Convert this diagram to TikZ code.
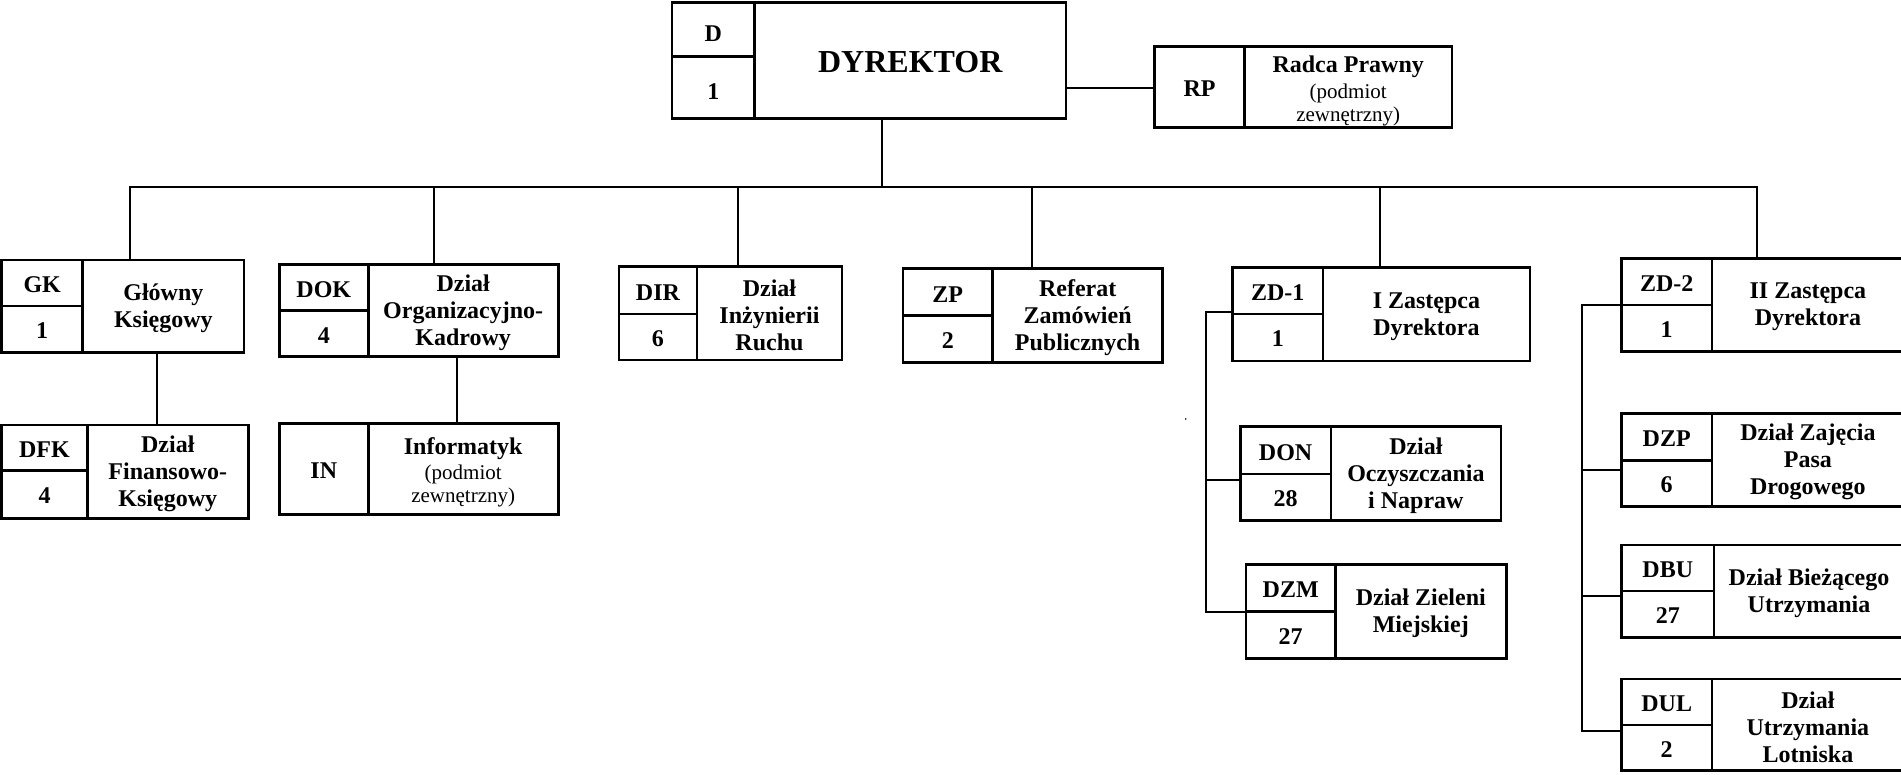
\documentclass[tikz,border=0pt]{standalone}
\usepackage{fontspec}
\setmainfont{Liberation Serif}
\usetikzlibrary{fit}
\newcommand\bfnt{\fontsize{24}{27}\selectfont\bfseries}
\newcommand\rfnt{\fontsize{21}{23}\selectfont\mdseries}
\newcommand\bigfnt{\fontsize{32}{36}\selectfont\bfseries}
% #1 name, #2 x1, #3 y1, #4 x2, #5 y2, #6 x of divider, #7 y of code/number divider (empty = none)
\newcommand\orgbox[7]{%
  \node[box, fit={(#2,#3) (#4,#5)}] (#1) {};
  \draw[divline] (#6,#3) -- (#6,#5);
  \ifx\relax#7\relax
    \coordinate (#1-c) at ({(#2+#6)/2},{(#3+#5)/2+1.5});
  \else
    \draw[divline] (#2,#7) -- (#6,#7);
    \coordinate (#1-c) at ({(#2+#6)/2},{(#3+#7)/2+2});
    \coordinate (#1-n) at ({(#2+#6)/2},{(#7+#5)/2+1.5});
  \fi
  \coordinate (#1-t) at ({(#6+#4)/2},{(#3+#5)/2+2});
}
\begin{document}
\begin{tikzpicture}[x=1pt,y=-1pt,
  box/.style={draw, rectangle, line width=2.6pt, inner sep=0pt, outer sep=0pt},
  divline/.style={line width=2.6pt},
  conn/.style={line width=2pt, line join=miter},
  codet/.style={font=\bfnt, inner sep=0pt},
  namet/.style={font=\bfnt, align=center, inner sep=0pt},
  mixt/.style={font=\bfnt, align=center, inner sep=0pt, anchor=north},
]
\useasboundingbox (0,0) rectangle (1901,775);

% boxes
\orgbox{D}{672}{2.7}{1066}{118.3}{754.6}{56.7}
\orgbox{RP}{1154.7}{46.7}{1451.8}{127.7}{1244.6}{}
\orgbox{GK}{1.7}{260}{244}{352.7}{82.7}{306}
\orgbox{DFK}{1.7}{425}{248.3}{518.3}{87.3}{470.7}
\orgbox{DOK}{279.4}{264.3}{558.2}{356.7}{368.2}{310.7}
\orgbox{IN}{279.4}{423.7}{558.2}{514.7}{368.2}{}
\orgbox{DIR}{619}{266.7}{842}{360}{696.9}{314}
\orgbox{ZP}{902.9}{268.7}{1162.7}{362.7}{992.6}{315.7}
\orgbox{ZD1}{1232.6}{267.7}{1529.9}{361}{1323}{314}
\orgbox{ZD2}{1621.6}{258.5}{1904}{351.7}{1711.8}{305}
\orgbox{DON}{1240.2}{426.7}{1500.8}{520.7}{1331}{474}
\orgbox{DZM}{1246}{564.3}{1506.2}{658.3}{1335.4}{611.7}
\orgbox{DZP}{1621.6}{413.5}{1904}{506.7}{1711.8}{460.3}
\orgbox{DBU}{1621.6}{545}{1904}{637.5}{1714}{590.8}
\orgbox{DUL}{1621.6}{679}{1904}{770.7}{1711.8}{725}

% texts
\node[codet] (tD) at ([yshift=-2pt]D-c) {D};
\node[codet] (nD) at ([yshift=-3pt]D-n) {1};
\node[font=\bigfnt, inner sep=0pt] (xD) at (D-t) {DYREKTOR};

\node[codet] (tRP) at (RP-c) {RP};
\node[mixt] (xRP) at (RP-t |- 0,55.3) {Radca Prawny\\[-1pt]{\rfnt (podmiot}\\[-4pt]{\rfnt zewnętrzny)}};

\node[codet] (tGK) at (GK-c) {GK};
\node[codet] (nGK) at (GK-n) {1};
\node[namet] (xGK) at (GK-t) {Główny\\Księgowy};

\node[codet] (tDFK) at (DFK-c) {DFK};
\node[codet] (nDFK) at (DFK-n) {4};
\node[namet] (xDFK) at (DFK-t) {Dział\\Finansowo-\\Księgowy};

\node[codet] (tDOK) at (DOK-c) {DOK};
\node[codet] (nDOK) at (DOK-n) {4};
\node[namet] (xDOK) at (DOK-t) {Dział\\Organizacyjno-\\Kadrowy};

\node[codet] (tIN) at (IN-c) {IN};
\node[mixt] (xIN) at (IN-t |- 0,437) {Informatyk\\[-2pt]{\rfnt (podmiot}\\[-4pt]{\rfnt zewnętrzny)}};

\node[codet] (tDIR) at (DIR-c) {DIR};
\node[codet] (nDIR) at (DIR-n) {6};
\node[namet] (xDIR) at (DIR-t) {Dział\\Inżynierii\\Ruchu};

\node[codet] (tZP) at (ZP-c) {ZP};
\node[codet] (nZP) at (ZP-n) {2};
\node[namet] (xZP) at (ZP-t) {Referat\\Zamówień\\Publicznych};

\node[codet] (tZD1) at (ZD1-c) {ZD-1};
\node[codet] (nZD1) at (ZD1-n) {1};
\node[namet] (xZD1) at (ZD1-t) {I Zastępca\\Dyrektora};

\node[codet] (tZD2) at (ZD2-c) {ZD-2};
\node[codet] (nZD2) at (ZD2-n) {1};
\node[namet] (xZD2) at (ZD2-t) {II Zastępca\\Dyrektora};

\node[codet] (tDON) at (DON-c) {DON};
\node[codet] (nDON) at (DON-n) {28};
\node[namet] (xDON) at (DON-t) {Dział\\Oczyszczania\\i Napraw};

\node[codet] (tDZM) at (DZM-c) {DZM};
\node[codet] (nDZM) at (DZM-n) {27};
\node[namet] (xDZM) at (DZM-t) {Dział Zieleni\\Miejskiej};

\node[codet] (tDZP) at (DZP-c) {DZP};
\node[codet] (nDZP) at (DZP-n) {6};
\node[namet] (xDZP) at (DZP-t) {Dział Zajęcia\\Pasa\\Drogowego};

\node[codet] (tDBU) at (DBU-c) {DBU};
\node[codet] (nDBU) at (DBU-n) {27};
\node[namet] (xDBU) at (DBU-t) {Dział Bieżącego\\Utrzymania};

\node[codet] (tDUL) at (DUL-c) {DUL};
\node[codet] (nDUL) at (DUL-n) {2};
\node[namet] (xDUL) at (DUL-t) {Dział\\Utrzymania\\Lotniska};

% bus coordinates
\coordinate (bGK) at (130,186.7);
\coordinate (bDOK) at (434.4,186.7);
\coordinate (bDIR) at (737.6,186.7);
\coordinate (bD) at (881.7,186.7);
\coordinate (bZP) at (1031.8,186.7);
\coordinate (bZD1) at (1379.7,186.7);
\coordinate (bZD2) at (1756.6,186.7);

% connectors
\draw[conn] (bD |- D.south) -- (bD);
\draw[conn] (D.east |- 0,88.3) -- (RP.west |- 0,88.3);
\draw[conn] (bGK |- GK.north) -- (bGK) -- (bZD2) -- (bZD2 |- ZD2.north);
\draw[conn] (bDOK) -- (bDOK |- DOK.north);
\draw[conn] (bDIR) -- (bDIR |- DIR.north);
\draw[conn] (bZP) -- (bZP |- ZP.north);
\draw[conn] (bZD1) -- (bZD1 |- ZD1.north);

\coordinate (kGK) at (156.5,0);
\draw[conn] (kGK |- GK.south) -- (kGK |- DFK.north);
\coordinate (kDOK) at (457.3,0);
\draw[conn] (kDOK |- DOK.south) -- (kDOK |- IN.north);

\coordinate (z1top) at (1205.8,312.3);
\coordinate (z1don) at (1205.8,480);
\coordinate (z1dzm) at (1205.8,611.7);
\draw[conn] (ZD1.west |- z1top) -- (z1top) -- (z1dzm) -- (DZM.west |- z1dzm);
\draw[conn] (z1don) -- (DON.west |- z1don);

\coordinate (z2top) at (1582.2,305);
\coordinate (z2dzp) at (1582.2,469.5);
\coordinate (z2dbu) at (1582.2,596.3);
\coordinate (z2dul) at (1582.2,731);
\draw[conn] (ZD2.west |- z2top) -- (z2top) -- (z2dul) -- (DUL.west |- z2dul);
\draw[conn] (z2dzp) -- (DZP.west |- z2dzp);
\draw[conn] (z2dbu) -- (DBU.west |- z2dbu);

% stray dot
\fill (1185.7,419) circle (0.9);
\end{tikzpicture}
\end{document}
